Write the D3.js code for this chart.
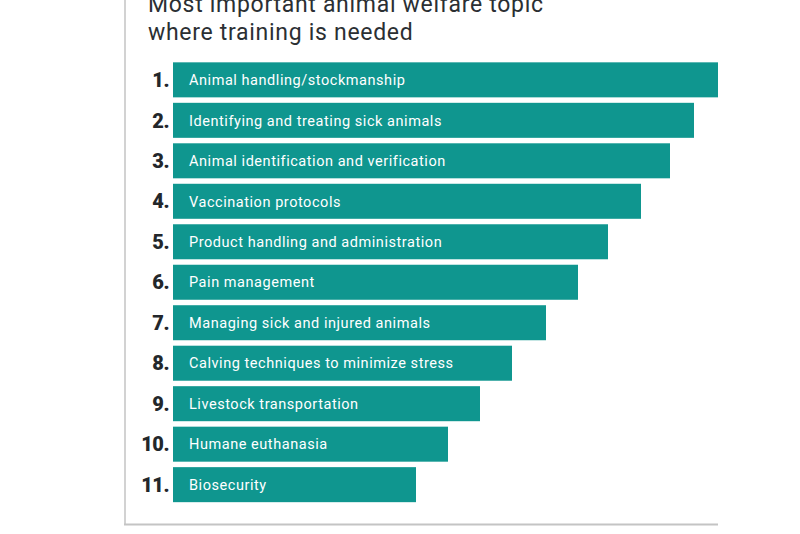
<!DOCTYPE html>
<html><head><meta charset="utf-8">
<script src="https://cdn.jsdelivr.net/npm/d3@7"></script>
<style>body{margin:0;background:#fff}svg{display:block}</style>
</head><body>
<script>
const titleLines = ["Most important animal welfare topic", "where training is needed"];
const ranks = ["1.","2.","3.","4.","5.","6.","7.","8.","9.","10.","11."];
const categories = [
  "Animal handling/stockmanship",
  "Identifying and treating sick animals",
  "Animal identification and verification",
  "Vaccination protocols",
  "Product handling and administration",
  "Pain management",
  "Managing sick and injured animals",
  "Calving techniques to minimize stress",
  "Livestock transportation",
  "Humane euthanasia",
  "Biosecurity"
];
const values = [545, 521, 497, 468, 435, 405, 373, 339, 307, 275, 243];

const W = 800, H = 534;
const svg = d3.select("body").append("svg").attr("width", W).attr("height", H);

const x = d3.scaleLinear().domain([0, 545]).range([173, 718]);
const y = d3.scaleBand().domain(categories).range([59.5, 505]).paddingInner(0.135).paddingOuter(0.07);

// frame lines
svg.append("line").attr("x1",125).attr("x2",125).attr("y1",0).attr("y2",525)
  .attr("stroke","#d2d2d2").attr("stroke-width",2);
svg.append("line").attr("x1",124).attr("x2",718).attr("y1",524.5).attr("y2",524.5)
  .attr("stroke","#c4c4c4").attr("stroke-width",2);

// title
svg.append("g").selectAll("text").data(titleLines).join("text")
  .attr("x",148).attr("y",(d,i)=>12+i*28)
  .attr("font-family","Roboto, 'Noto Sans', sans-serif").attr("font-size",23)
  .attr("letter-spacing",0.7)
  .attr("fill","#2b2f33").text(d=>d);

// bars
svg.append("g").selectAll("rect").data(categories).join("rect")
  .attr("x", x(0)).attr("y", d=>y(d))
  .attr("width", (d,i)=>x(values[i])-x(0)).attr("height", y.bandwidth())
  .attr("fill","#0f968f");

// labels
svg.append("g").selectAll("text").data(categories).join("text")
  .attr("x", x(0)+16).attr("y", d=>y(d)+y.bandwidth()/2).attr("dy","0.36em")
  .attr("font-family","Roboto, 'Noto Sans', sans-serif").attr("font-size",14.5)
  .attr("letter-spacing",0.55)
  .attr("fill","#ffffff").text(d=>d);

// rank numbers
svg.append("g").selectAll("text").data(categories).join("text")
  .attr("x", 169).attr("y", d=>y(d)+y.bandwidth()/2).attr("dy","0.36em")
  .attr("text-anchor","end")
  .attr("font-family","Roboto, 'Noto Sans', sans-serif").attr("font-size",20).attr("font-weight",900)
  .attr("letter-spacing",-0.5)
  .attr("fill","#23272b").text((d,i)=>ranks[i]);
</script>
</body></html>
